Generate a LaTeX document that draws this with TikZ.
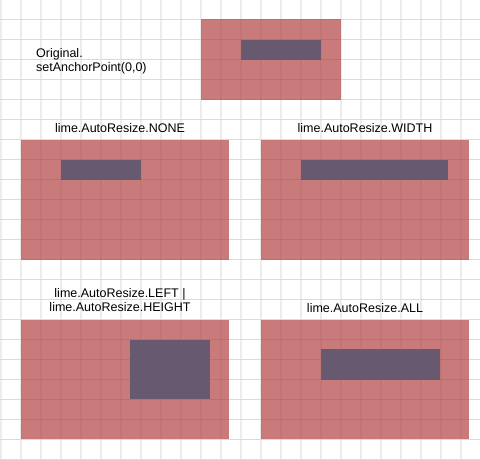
\documentclass[tikz,border=0pt]{standalone}
\usepackage{fontspec}
\setmainfont{Liberation Sans}
\definecolor{panelred}{RGB}{178,66,66}
\definecolor{boxgray}{RGB}{103,90,112}
\definecolor{gridv}{RGB}{236,236,236}
\definecolor{gridh}{RGB}{218,218,218}
\begin{document}
\begin{tikzpicture}[x=1pt, y=-1pt,
  panel/.style={fill=panelred, fill opacity=0.7},
  child/.style={fill=boxgray},
  lbl/.style={inner sep=0, font=\fontsize{12.5}{14.5}\selectfont, align=center}]
\useasboundingbox (0,0) rectangle (480,460);
% background grid
\foreach \x in {1,21,...,461}
  \draw[gridv, line width=2pt] (\x,0) -- (\x,460);
\foreach \y in {19.5,39.5,...,459.5}
  \draw[gridh, line width=1pt] (0,\y) -- (480,\y);

% original
\node[lbl, anchor=north west, align=left] (orig) at (36,48) {Original.\\setAnchorPoint(0,0)};
\fill[panel] (201,19) rectangle (341,100);
\fill[child] (241,40) rectangle (321,60);

% NONE
\node[lbl, anchor=base] (none) at (120,133) {lime.AutoResize.NONE};
\fill[panel] (21,140) rectangle (229,260);
\fill[child] (61,160) rectangle (141,180);

% WIDTH
\node[lbl, anchor=base] (width) at (365,133) {lime.AutoResize.WIDTH};
\fill[panel] (261,140) rectangle (469,260);
\fill[child] (301,160) rectangle (448,180);

% LEFT | HEIGHT
\node[lbl, anchor=north] (lefth) at (120,288) {lime.AutoResize.LEFT |\\lime.AutoResize.HEIGHT};
\fill[panel] (21,320) rectangle (229,439);
\fill[child] (130,340) rectangle (210,399);

% ALL
\node[lbl, anchor=base] (all) at (365,312) {lime.AutoResize.ALL};
\fill[panel] (261,320) rectangle (469,439);
\fill[child] (321,349) rectangle (440,380);
\end{tikzpicture}
\end{document}
